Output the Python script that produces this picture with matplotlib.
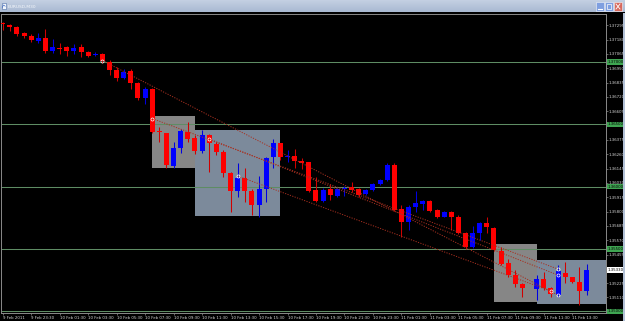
import numpy as np
import matplotlib
matplotlib.use("Agg")
import matplotlib.pyplot as plt
import matplotlib.transforms as mtransforms
from matplotlib.patches import Rectangle

nan = np.nan

# =========================================================
# Data: EURUSD M30, one bar per index (bar 74 not drawn)
# =========================================================

OPEN = [
    1.37317, 1.37297, 1.37279, 1.37233, 1.37211, 1.37171, 1.37191, 1.37089, 1.37115, 1.37124,
    1.37089, 1.37118, 1.37083, 1.37056, 1.37064, 1.37003, 1.36932, 1.36869, 1.36928, 1.36829,
    1.36709, 1.36781, 1.36446, 1.36428, 1.36165, 1.36312, 1.36440, 1.36388, 1.36286, 1.36414,
    1.36339, 1.36280, 1.36111, 1.35967, 1.36071, 1.35967, 1.35852, 1.35978, 1.36235, 1.36347,
    1.36240, 1.36245, 1.36205, 1.36195, 1.35972, 1.35886, 1.35978, 1.35927, 1.35980, 1.35994,
    1.35978, 1.35938, 1.35972, 1.36018, 1.36053, 1.36171, 1.35820, 1.35718, 1.35838, 1.35860,
    1.35884, 1.35812, 1.35760, 1.35796, 1.35760, 1.35625, 1.35517, 1.35625, 1.35705, 1.35667,
    1.35483, 1.35384, 1.35290, 1.35218, nan, 1.35179, 1.35255, 1.35183, 1.35129, 1.35308,
    1.35271, 1.35236, 1.35164,
]
HIGH = [
    1.37325, 1.37305, 1.37292, 1.37241, 1.37223, 1.37231, 1.37265, 1.37182, 1.37150, 1.37129,
    1.37145, 1.37147, 1.37091, 1.37083, 1.37075, 1.37016, 1.36956, 1.36942, 1.36942, 1.36842,
    1.36802, 1.36789, 1.36481, 1.36432, 1.36360, 1.36460, 1.36521, 1.36414, 1.36454, 1.36422,
    1.36360, 1.36294, 1.36119, 1.36192, 1.36151, 1.35978, 1.36085, 1.36240, 1.36379, 1.36352,
    1.36294, 1.36298, 1.36229, 1.36200, 1.36079, 1.35986, 1.36021, 1.35986, 1.36004, 1.36039,
    1.35986, 1.35978, 1.36031, 1.36058, 1.36187, 1.36187, 1.35852, 1.35852, 1.35967, 1.35892,
    1.35892, 1.35817, 1.35806, 1.35804, 1.35772, 1.35635, 1.35683, 1.35718, 1.35756, 1.35678,
    1.35517, 1.35418, 1.35330, 1.35223, nan, 1.35290, 1.35316, 1.35191, 1.35370, 1.35397,
    1.35276, 1.35352, 1.35378,
]
LOW = [
    1.37257, 1.37249, 1.37211, 1.37193, 1.37163, 1.37150, 1.37070, 1.37075, 1.37064, 1.37051,
    1.37064, 1.37043, 1.37043, 1.37051, 1.36995, 1.36896, 1.36848, 1.36860, 1.36781, 1.36695,
    1.36663, 1.36432, 1.36360, 1.36147, 1.36147, 1.36267, 1.36360, 1.36261, 1.36267, 1.36119,
    1.36253, 1.36079, 1.35798, 1.35918, 1.35878, 1.35772, 1.35758, 1.35878, 1.36147, 1.36213,
    1.36200, 1.36147, 1.36139, 1.35959, 1.35878, 1.35878, 1.35892, 1.35918, 1.35924, 1.35959,
    1.35918, 1.35932, 1.35967, 1.36012, 1.36047, 1.35806, 1.35597, 1.35655, 1.35798, 1.35812,
    1.35798, 1.35745, 1.35753, 1.35651, 1.35619, 1.35499, 1.35504, 1.35571, 1.35631, 1.35485,
    1.35370, 1.35276, 1.35197, 1.35111, nan, 1.35089, 1.35169, 1.35116, 1.35116, 1.35223,
    1.35223, 1.35049, 1.35129,
]
CLOSE = [
    1.37301, 1.37279, 1.37225, 1.37209, 1.37174, 1.37191, 1.37086, 1.37121, 1.37107, 1.37091,
    1.37115, 1.37078, 1.37051, 1.37067, 1.37008, 1.36932, 1.36868, 1.36920, 1.36828, 1.36709,
    1.36783, 1.36440, 1.36436, 1.36173, 1.36312, 1.36446, 1.36382, 1.36286, 1.36414, 1.36347,
    1.36280, 1.36111, 1.35967, 1.36071, 1.35967, 1.35852, 1.35978, 1.36232, 1.36347, 1.36235,
    1.36249, 1.36205, 1.36193, 1.35968, 1.35886, 1.35972, 1.35932, 1.35978, 1.35992, 1.35972,
    1.35932, 1.35972, 1.36021, 1.36053, 1.36173, 1.35812, 1.35718, 1.35840, 1.35866, 1.35884,
    1.35808, 1.35760, 1.35796, 1.35758, 1.35625, 1.35517, 1.35625, 1.35705, 1.35673, 1.35491,
    1.35382, 1.35290, 1.35218, 1.35183, nan, 1.35259, 1.35183, 1.35137, 1.35322, 1.35271,
    1.35236, 1.35164, 1.35330,
]

TIME_TICKS = list(range(0, 81, 4))
TIME_LABELS = [
    "9 Feb 2011", "9 Feb 23:30",
    "10 Feb 01:30", "10 Feb 03:30", "10 Feb 05:30", "10 Feb 07:30", "10 Feb 09:30",
    "10 Feb 11:30", "10 Feb 13:30", "10 Feb 15:30", "10 Feb 17:30", "10 Feb 19:30",
    "10 Feb 21:30", "10 Feb 23:30",
    "11 Feb 01:30", "11 Feb 03:30", "11 Feb 05:30", "11 Feb 07:30", "11 Feb 09:30",
    "11 Feb 11:30", "11 Feb 13:30",
]

PRICE_TICKS = [
    1.37295, 1.37180, 1.37065, 1.36950, 1.36835, 1.36720, 1.36605, 1.36490, 1.36375, 1.36260,
    1.36145, 1.36030, 1.35915, 1.35800, 1.35685, 1.35570, 1.35455, 1.35340, 1.35225, 1.35110,
]

LEVELS = [1.37000, 1.36500, 1.36000, 1.35500, 1.35000]

# rectangles: bar from/to, price top/bottom
RECT_BAR0 = [21, 27, 69, 75]
RECT_BAR1 = [27, 39, 75, 88]
RECT_TOP = [1.36567, 1.36454, 1.35543, 1.35410]
RECT_BOT = [1.36149, 1.35764, 1.35077, 1.35057]

# trend lines: anchor bar/price -> end bar/price
TREND_BAR0 = [14, 21, 29, 33]
TREND_P0 = [1.37012, 1.36546, 1.36382, 1.36085]
TREND_BAR1 = [78, 78, 78, 77]
TREND_P1 = [1.35129, 1.35338, 1.35290, 1.35161]

# =========================================================
# Style
# =========================================================

W, H = 625, 321
AX_L, AX_R, AX_T, AX_B = 1, 605.5, 14, 313.3

BULL = "#0000ff"
BEAR = "#ff0000"
BULL_WICK = "#0000e0"
BEAR_WICK = "#d00000"
LEVEL_COLOR = "#5e8c64"
LEVEL_BOX = "#3fa552"
TREND_COLOR = "#a83020"
RECT_COLORS = ["#868686", "#7c8a9b", "#868686", "#7c8a9b"]
TEXT_COLOR = "#d8d8d8"
FS = 2.8

plt.rcParams["font.family"] = ["DejaVu Sans"]

fig = plt.figure(figsize=(W / 100, H / 100), dpi=100, facecolor="black")

# ---------------------------------------------------------
# title bar
# ---------------------------------------------------------
tb = fig.add_axes([0, 1 - 12.5 / H, 1, 12.5 / H])
tb.set_xlim(0, W)
tb.set_ylim(12.5, 0)
tb.axis("off")
grad = np.linspace(0, 1, 32).reshape(-1, 1)
tb.imshow(grad, cmap=matplotlib.colors.LinearSegmentedColormap.from_list(
    "tb", ["#c6d2e4", "#a9b9d2"]), extent=[0, W, 12.5, 0], aspect="auto")
tb.add_patch(Rectangle((1.5, 3), 4.5, 5.5, fc="#f2f6fb", ec="#4d6fa8", lw=0.4))
tb.plot([2.2, 3.6, 5.2], [7.5, 5.0, 6.2], color="#3060c0", lw=0.4)
tb.text(8, 6.6, "EURUSD,M30", color="#f4f7fb", fontsize=3.2, va="center", ha="left")
for x0, fc in [(596, "#7f9fe0"), (605, "#7f9fe0"), (614, "#d86a5e")]:
    tb.add_patch(Rectangle((x0, 2), 8, 9, fc=fc, ec="#f4f6fa", lw=0.4))
tb.plot([598, 601.5], [9, 9], color="white", lw=0.8)
tb.add_patch(Rectangle((607, 4), 4, 4.5, fc="none", ec="white", lw=0.5))
tb.plot([616, 620], [4, 9], color="white", lw=0.6)
tb.plot([616, 620], [9, 4], color="white", lw=0.6)

# right window frame
fig.add_artist(Rectangle((623 / W, 0), 2 / W, 1 - 12.5 / H, transform=fig.transFigure,
                         fc="#b3c1d6", ec="none"))

# ---------------------------------------------------------
# chart
# ---------------------------------------------------------
ax = fig.add_axes([AX_L / W, 1 - AX_B / H, (AX_R - AX_L) / W, (AX_B - AX_T) / H])
ax.set_facecolor("black")

bar_px = 7.12
first_px = 2.7
ax.set_xlim((AX_L - first_px) / bar_px, (AX_R - first_px) / bar_px)
px_per_unit = 12460.0
top_price = 1.37 + (62 - AX_T) / px_per_unit
bot_price = 1.37 + (62 - AX_B) / px_per_unit
ax.set_ylim(bot_price, top_price)

o = np.array(OPEN)
h = np.array(HIGH)
l = np.array(LOW)
c = np.array(CLOSE)
idx = np.arange(len(o))

for k in range(4):
    ax.add_patch(Rectangle((RECT_BAR0[k], RECT_BOT[k]), RECT_BAR1[k] - RECT_BAR0[k],
                           RECT_TOP[k] - RECT_BOT[k], fc=RECT_COLORS[k], ec="none", zorder=1))

for lv in LEVELS:
    ax.axhline(lv, color=LEVEL_COLOR, lw=0.75, zorder=2)

body_w = 0.7
min_body = 1.0 / px_per_unit
for i in idx:
    if np.isnan(o[i]):
        continue
    up = c[i] > o[i]
    ax.vlines(i, l[i], h[i], color=BULL_WICK if up else BEAR_WICK, lw=0.75, zorder=3)
    lo = min(o[i], c[i])
    ht = max(abs(c[i] - o[i]), min_body)
    ax.add_patch(Rectangle((i - body_w / 2, lo), body_w, ht,
                           fc=BULL if up else BEAR, ec="none", zorder=4))

for k in range(4):
    ax.plot([TREND_BAR0[k], TREND_BAR1[k]], [TREND_P0[k], TREND_P1[k]],
            color=TREND_COLOR, lw=0.7, ls=(0, (1.2, 1.4)), zorder=5)
    ax.plot([TREND_BAR0[k], TREND_BAR1[k]], [TREND_P0[k], TREND_P1[k]], ls="none",
            marker="o", ms=2.2, mfc="none", mec="white", mew=0.5, zorder=6)

for sp in ax.spines.values():
    sp.set_color("#8a8a8a")
    sp.set_linewidth(0.7)

# labels hidden behind the level / bid boxes are left blank, as in the terminal
boxed = LEVELS + [c[-1]]
ax.yaxis.tick_right()
ax.set_yticks(PRICE_TICKS)
ax.set_yticklabels(["" if min(abs(p - b) for b in boxed) < 0.00025 else f"{p:.5f}"
                    for p in PRICE_TICKS])
ax.set_xticks(TIME_TICKS)
ax.set_xticklabels(TIME_LABELS, ha="left")
ax.tick_params(axis="both", colors="#8a8a8a", labelcolor=TEXT_COLOR, labelsize=FS,
               length=1.5, width=0.5, pad=0.6)

trans = mtransforms.blended_transform_factory(ax.transAxes, ax.transData)
for lv in LEVELS:
    ax.text(1.004, lv, f"{lv:.5f}", transform=trans, fontsize=FS, color="black",
            va="center", ha="left", clip_on=False, zorder=10,
            bbox=dict(boxstyle="square,pad=0.18", fc=LEVEL_BOX, ec="none"))
ax.text(1.004, c[-1], f"{c[-1]:.5f}", transform=trans, fontsize=FS, color="black",
        va="center", ha="left", clip_on=False, zorder=10,
        bbox=dict(boxstyle="square,pad=0.18", fc="white", ec="none"))

fig.savefig("out.png", dpi=100, facecolor="black")
